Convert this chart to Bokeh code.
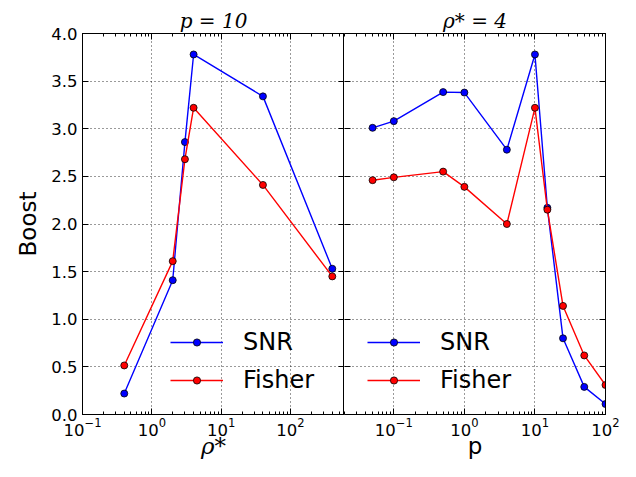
from bokeh.plotting import figure
from bokeh.layouts import row
from bokeh.models import (LogAxis, LinearAxis, FixedTicker, LogTicker, Legend, LegendItem,
                          PrintfTickFormatter, Range1d, CustomJSTickFormatter)
from bokeh.embed import file_html
from bokeh.resources import INLINE

# Left panel: p = 10, varying rho_*
rho_star = [0.4, 2, 3, 4, 40, 400]
snr_rho = [0.22, 1.41, 2.86, 3.78, 3.34, 1.53]
fisher_rho = [0.515, 1.61, 2.68, 3.22, 2.41, 1.45]

# Right panel: rho_* = 4, varying p
p_vals = [0.05, 0.1, 0.5, 1, 4, 10, 15, 25, 50, 100]
snr_p = [3.01, 3.08, 3.385, 3.38, 2.78, 3.78, 2.17, 0.80, 0.29, 0.11]
fisher_p = [2.46, 2.49, 2.55, 2.39, 2.00, 3.22, 2.15, 1.14, 0.62, 0.31]

y_ticks = [0.0, 0.5, 1.0, 1.5, 2.0, 2.5, 3.0, 3.5, 4.0]
left_xlim = (0.1, 600)
right_xlim = (0.02, 100)

BLUE = "#0000ff"
RED = "#ff0000"
TICK_FONT = "16.5px"
LABEL_FONT = "23px"
H = 461


def style_axis(ax, show_labels):
    ax.axis_line_color = "black"
    ax.axis_line_width = 1
    ax.major_tick_in = 6
    ax.major_tick_out = 0
    ax.minor_tick_in = 3
    ax.minor_tick_out = 0
    ax.major_tick_line_color = "black"
    ax.minor_tick_line_color = "black"
    ax.major_label_text_font = "DejaVu Sans"
    ax.major_label_text_color = "black"
    ax.major_label_text_font_size = TICK_FONT
    ax.axis_label_text_font = "DejaVu Sans"
    ax.axis_label_text_font_size = LABEL_FONT
    ax.axis_label_text_font_style = "normal"
    ax.axis_label_text_color = "black"
    if not show_labels:
        ax.formatter = CustomJSTickFormatter(code="return ''")
        ax.major_label_text_font_size = "1px"
        ax.major_label_standoff = 0


def make_panel(xlim, width, bl, br, title, xs, snr, fisher, legend_x, ylabel, xlabel,
               xlabel_italic, is_right):
    p = figure(width=width, height=H, x_axis_type="log",
               x_range=Range1d(*xlim), y_range=Range1d(0, 4),
               output_backend="svg", toolbar_location=None,
               min_border_left=bl, min_border_right=br,
               min_border_top=33, min_border_bottom=45,
               title=title, x_axis_label=xlabel)
    p.background_fill_color = "white"
    p.border_fill_color = "white"
    p.outline_line_color = None if is_right else "black"
    p.outline_line_width = 1

    p.title.text_font = "DejaVu Serif"
    p.title.text_font_style = "italic"
    p.title.text_color = "black"
    p.title.text_font_size = "20px"
    p.title.align = "center"
    p.title.standoff = 2
    p.title.offset = 0

    # bottom axis
    xb = p.xaxis[0]
    xb.ticker = LogTicker(mantissas=[1], num_minor_ticks=10)
    style_axis(xb, True)
    xb.major_label_standoff = 3
    xb.axis_label_standoff = -6
    if xlabel_italic:
        xb.axis_label_text_font = "DejaVu Serif"
        xb.axis_label_text_font_style = "italic"

    # left axis
    yl = p.yaxis[0]
    yl.ticker = FixedTicker(ticks=y_ticks)
    if ylabel is not None:
        style_axis(yl, True)
        yl.formatter = PrintfTickFormatter(format="%.1f")
        yl.axis_label = ylabel
        yl.major_label_standoff = 5
        yl.axis_label_standoff = 7
    else:
        style_axis(yl, False)
    yl.minor_tick_in = 0
    if is_right:
        yl.axis_line_color = None

    # top and right axes (ticks only)
    xt = LogAxis(ticker=LogTicker(mantissas=[1], num_minor_ticks=10))
    style_axis(xt, False)
    p.add_layout(xt, "above")
    yr = LinearAxis(ticker=FixedTicker(ticks=y_ticks))
    style_axis(yr, False)
    yr.minor_tick_in = 0
    p.add_layout(yr, "right")

    for g in (p.xgrid, p.ygrid):
        g.grid_line_color = "black"
        g.grid_line_dash = "1 3"
        g.grid_line_width = 0.8
    p.xgrid.ticker = LogTicker(mantissas=[1], num_minor_ticks=10)
    p.ygrid.ticker = FixedTicker(ticks=y_ticks)

    l1 = p.line(xs, snr, line_color=BLUE, line_width=1.4)
    s1 = p.scatter(xs, snr, size=7, fill_color=BLUE, line_color="black", line_width=0.8)
    l2 = p.line(xs, fisher, line_color=RED, line_width=1.4)
    s2 = p.scatter(xs, fisher, size=7, fill_color=RED, line_color="black", line_width=0.8)

    legend = Legend(items=[LegendItem(label="SNR", renderers=[l1, s1]),
                           LegendItem(label="Fisher", renderers=[l2, s2])],
                    location=(legend_x, 20), orientation="vertical",
                    label_text_font="DejaVu Sans", label_text_font_size="24px",
                    label_text_color="black",
                    glyph_width=53, glyph_height=18, label_height=28,
                    label_standoff=20, spacing=10, padding=0, margin=0,
                    border_line_alpha=0, background_fill_alpha=0)
    p.add_layout(legend)
    return p


left = make_panel(left_xlim, 344, 82, 0, "p = 10", rho_star, snr_rho, fisher_rho,
                  88, "Boost", "ρ*", True, False)
right = make_panel(right_xlim, 276, 0, 15, "ρ* = 4", p_vals, snr_p, fisher_p,
                   23, None, "p", False, True)

layout = row(left, right)
open("out.html", "w").write(file_html(layout, INLINE))
